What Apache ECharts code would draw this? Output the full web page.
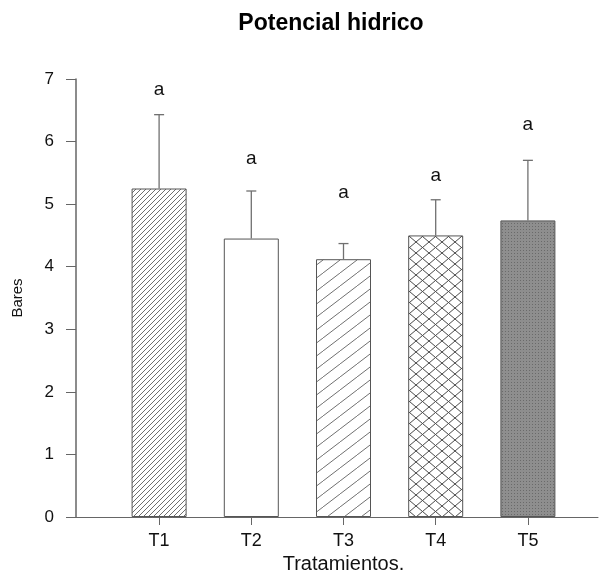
<!DOCTYPE html>
<html>
<head>
<meta charset="utf-8">
<script src="https://cdn.jsdelivr.net/npm/echarts@6/dist/echarts.min.js"></script>
<style>
html,body{margin:0;padding:0;background:#fff;}
#chart{width:600px;height:572px;}
</style>
</head>
<body>
<div id="chart"></div>
<script>
// ---- data ----
var categories = ['T1', 'T2', 'T3', 'T4', 'T5'];
var means = [5.25, 4.45, 4.12, 4.50, 4.74];
var errors = [1.18, 0.76, 0.25, 0.57, 0.96];
var letters = ['a', 'a', 'a', 'a', 'a'];
var letterValues = [6.83, 5.73, 5.18, 5.45, 6.27];
var yTicks = [0, 1, 2, 3, 4, 5, 6, 7];

var FONT = 'Liberation Sans, Arial, Helvetica, sans-serif';

function makeTile(w, h, bg, draw) {
  var c = document.createElement('canvas');
  c.width = w; c.height = h;
  var ctx = c.getContext('2d');
  ctx.fillStyle = bg; ctx.fillRect(0, 0, w, h);
  draw(ctx, w, h);
  return c;
}
function hatch(ctx, w, h, color, lw, cross) {
  ctx.strokeStyle = color; ctx.lineWidth = lw;
  for (var k = -1; k <= 1; k++) {
    ctx.beginPath(); ctx.moveTo(k * w, h); ctx.lineTo(k * w + w, 0); ctx.stroke();
    if (cross) { ctx.beginPath(); ctx.moveTo(k * w, 0); ctx.lineTo(k * w + w, h); ctx.stroke(); }
  }
}
var patT1 = makeTile(5, 5, '#ffffff', function (c, w, h) { hatch(c, w, h, '#6e6e6e', 1, false); });
var patT3 = makeTile(17, 13, '#ffffff', function (c, w, h) { hatch(c, w, h, '#707070', 1, false); });
var patT4 = makeTile(13, 11, '#ffffff', function (c, w, h) { hatch(c, w, h, '#4a4a4a', 1, true); });
var patT5 = makeTile(3, 3, '#8e8e8e', function (c, w, h) { c.fillStyle = '#6a6a6a'; c.fillRect(1, 1, 1, 1); });

var fills = [
  { image: patT1, repeat: 'repeat' },
  '#ffffff',
  { image: patT3, repeat: 'repeat' },
  { image: patT4, repeat: 'repeat' },
  { image: patT5, repeat: 'repeat' }
];

var barData = means.map(function (v, i) {
  return { value: v, itemStyle: { color: fills[i], borderColor: '#555', borderWidth: 1 } };
});
var errData = means.map(function (v, i) { return [i, v, v + errors[i], letterValues[i]]; });

var chart = echarts.init(document.getElementById('chart'), null, { renderer: 'canvas' });
chart.setOption({
  animation: false,
  backgroundColor: '#ffffff',
  title: {
    text: 'Potencial hidrico',
    left: 331, top: 12, padding: 0, textAlign: 'center',
    textStyle: { fontFamily: FONT, fontWeight: 'bold', fontSize: 23, color: '#000' }
  },
  grid: [
    { left: 76, right: 2, top: 79, bottom: 55, outerBoundsMode: 'none', containLabel: false },
    { left: 113, right: 26, top: 79, bottom: 55, outerBoundsMode: 'none', containLabel: false }
  ],
  xAxis: [
    { type: 'value', gridIndex: 0, min: 0, max: 1,
      axisLine: { show: true, lineStyle: { color: '#666', width: 1 } },
      axisTick: { show: false }, axisLabel: { show: false }, splitLine: { show: false } },
    { type: 'category', gridIndex: 1, data: categories,
      axisLine: { show: false },
      axisTick: { show: true, alignWithLabel: true, length: 8, lineStyle: { color: '#666' } },
      axisLabel: { fontFamily: FONT, fontSize: 18, color: '#111', margin: 15 },
      name: 'Tratamientos.', nameLocation: 'middle', nameGap: 36,
      nameTextStyle: { fontFamily: FONT, fontSize: 20, color: '#111' },
      splitLine: { show: false } }
  ],
  yAxis: [
    { type: 'value', gridIndex: 0, min: 0, max: 7, interval: 1,
      axisLine: { show: true, lineStyle: { color: '#666', width: 1.5 } },
      axisTick: { show: true, length: 10, inside: false, lineStyle: { color: '#666' } },
      axisLabel: { fontFamily: FONT, fontSize: 17, color: '#111', margin: 22,
        formatter: function (v) { return yTicks.indexOf(v) >= 0 ? String(v) : ''; } },
      splitLine: { show: false },
      name: 'Bares', nameLocation: 'middle', nameGap: 51, nameRotate: 90,
      nameTextStyle: { fontFamily: FONT, fontSize: 15, color: '#111' } },
    { type: 'value', gridIndex: 1, min: 0, max: 7, show: false }
  ],
  series: [
    { type: 'bar', xAxisIndex: 1, yAxisIndex: 1, barWidth: 55, data: barData, z: 2 },
    { type: 'custom', xAxisIndex: 1, yAxisIndex: 1, z: 5, data: errData,
      renderItem: function (params, api) {
        var i = api.value(0);
        var p0 = api.coord([i, api.value(1)]);
        var p1 = api.coord([i, api.value(2)]);
        var pl = api.coord([i, api.value(3)]);
        var st = { stroke: '#707070', lineWidth: 1.3 };
        return { type: 'group', children: [
          { type: 'line', shape: { x1: p0[0], y1: p0[1], x2: p1[0], y2: p1[1] }, style: st },
          { type: 'line', shape: { x1: p1[0] - 5, y1: p1[1], x2: p1[0] + 5, y2: p1[1] }, style: st },
          { type: 'text', x: pl[0], y: pl[1], style: { text: letters[params.dataIndex],
            fontFamily: FONT, fontSize: 19, fill: '#111', align: 'center', verticalAlign: 'middle' } }
        ] };
      } }
  ]
});
</script>
</body>
</html>
